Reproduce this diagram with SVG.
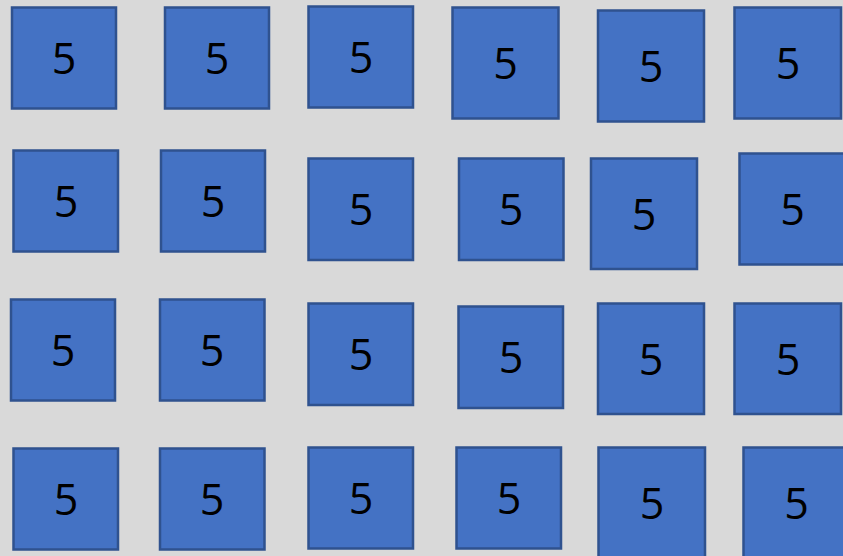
<svg xmlns="http://www.w3.org/2000/svg" width="843" height="556" viewBox="0 0 843 556">
<style>
.b{fill:#4472c4;stroke:#2f528f;stroke-width:2.5}
.t{font-family:"Open Sans","Noto Sans","DejaVu Sans",sans-serif;font-size:43px;fill:#000;text-anchor:middle}
</style>
<rect width="843" height="556" fill="#d9d9d9"/>
<g id="connectors"/>
<g id="n1"><rect class="b" x="12" y="7.5" width="104" height="101"/><text class="t" x="64" y="74">5</text></g>
<g id="n2"><rect class="b" x="165" y="7.5" width="104" height="101"/><text class="t" x="217" y="74">5</text></g>
<g id="n3"><rect class="b" x="308.5" y="6.5" width="104.5" height="101"/><text class="t" x="361" y="73">5</text></g>
<g id="n4"><rect class="b" x="452.5" y="7.5" width="106" height="111"/><text class="t" x="505.5" y="79">5</text></g>
<g id="n5"><rect class="b" x="598" y="10.5" width="106" height="111"/><text class="t" x="651" y="82">5</text></g>
<g id="n6"><rect class="b" x="734.5" y="7.5" width="106.5" height="111"/><text class="t" x="788" y="79">5</text></g>

<g id="n7"><rect class="b" x="13.5" y="150.5" width="104.5" height="101"/><text class="t" x="66" y="217">5</text></g>
<g id="n8"><rect class="b" x="161" y="150.5" width="104" height="101"/><text class="t" x="213" y="217">5</text></g>
<g id="n9"><rect class="b" x="308.5" y="158.5" width="104.5" height="101.5"/><text class="t" x="361" y="225">5</text></g>
<g id="n10"><rect class="b" x="459" y="158.5" width="104.5" height="101.5"/><text class="t" x="511" y="225">5</text></g>
<g id="n11"><rect class="b" x="591" y="158.5" width="106" height="110.5"/><text class="t" x="644" y="229.5">5</text></g>
<g id="n12"><rect class="b" x="739.5" y="153.5" width="106" height="111"/><text class="t" x="792.5" y="225">5</text></g>

<g id="n13"><rect class="b" x="11" y="299.5" width="104" height="101"/><text class="t" x="63" y="366">5</text></g>
<g id="n14"><rect class="b" x="160" y="299.5" width="104.5" height="101"/><text class="t" x="212" y="366">5</text></g>
<g id="n15"><rect class="b" x="308.5" y="303.5" width="104.5" height="101.5"/><text class="t" x="361" y="370">5</text></g>
<g id="n16"><rect class="b" x="458.5" y="306.5" width="104.5" height="101.5"/><text class="t" x="511" y="373">5</text></g>
<g id="n17"><rect class="b" x="598" y="303.5" width="106" height="110.5"/><text class="t" x="651" y="374.5">5</text></g>
<g id="n18"><rect class="b" x="734.5" y="303.5" width="106.5" height="110.5"/><text class="t" x="788" y="374.5">5</text></g>

<g id="n19"><rect class="b" x="13.5" y="448.5" width="104.5" height="101"/><text class="t" x="66" y="515">5</text></g>
<g id="n20"><rect class="b" x="160" y="448.5" width="104.5" height="101"/><text class="t" x="212" y="515">5</text></g>
<g id="n21"><rect class="b" x="308.5" y="447.5" width="104.5" height="101"/><text class="t" x="361" y="514">5</text></g>
<g id="n22"><rect class="b" x="456.5" y="447.5" width="104.5" height="101"/><text class="t" x="509" y="514">5</text></g>
<g id="n23"><rect class="b" x="598.5" y="447.5" width="106.5" height="111"/><text class="t" x="652" y="519">5</text></g>
<g id="n24"><rect class="b" x="743.5" y="447.5" width="106" height="111"/><text class="t" x="796.5" y="519">5</text></g>
</svg>
